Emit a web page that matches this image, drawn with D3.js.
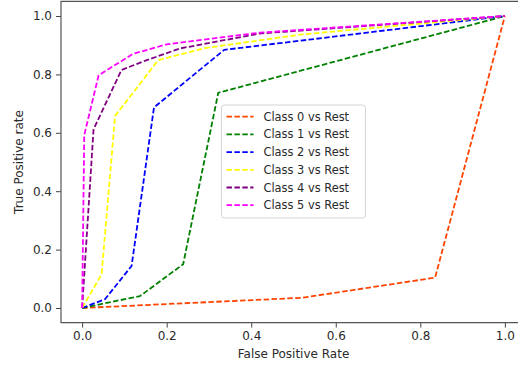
<!DOCTYPE html>
<html>
<head>
<meta charset="utf-8">
<script src="https://cdn.jsdelivr.net/npm/d3@7"></script>
<style>
	body { margin: 0; background: #fff; }
	svg { display: block; font-family: "DejaVu Sans", sans-serif; }
</style>
</head>
<body>
<svg id="chart" width="518" height="367"></svg>
<script>
// ROC curve points, one array per class (fpr, tpr)
const classNames = ["Class 0 vs Rest", "Class 1 vs Rest", "Class 2 vs Rest", "Class 3 vs Rest", "Class 4 vs Rest", "Class 5 vs Rest"]
const classColors = ["orangered", "green", "blue", "yellow", "purple", "magenta"]

const fpr0 = [0, 0.52, 0.835, 1]
const tpr0 = [0, 0.035, 0.104, 1]
const fpr1 = [0, 0.137, 0.239, 0.322, 1]
const tpr1 = [0, 0.041, 0.15, 0.737, 1]
const fpr2 = [0, 0.054, 0.117, 0.17, 0.336, 1]
const tpr2 = [0, 0.03, 0.144, 0.687, 0.884, 1]
const fpr3 = [0, 0.046, 0.078, 0.18, 0.29, 0.52, 1]
const tpr3 = [0, 0.115, 0.658, 0.849, 0.89, 0.937, 1]
const fpr4 = [0, 0.027, 0.093, 0.153, 0.232, 0.42, 1]
const tpr4 = [0, 0.612, 0.815, 0.849, 0.889, 0.94, 1]
const fpr5 = [0, 0.005, 0.039, 0.12, 0.2, 0.42, 1]
const tpr5 = [0, 0.592, 0.797, 0.87, 0.903, 0.943, 1]

const xTicks = [0, 0.2, 0.4, 0.6, 0.8, 1.0]
const yTicks = [0, 0.2, 0.4, 0.6, 0.8, 1.0]

const curves = [[fpr0, tpr0], [fpr1, tpr1], [fpr2, tpr2], [fpr3, tpr3], [fpr4, tpr4], [fpr5, tpr5]]
	.map(([f, t], i) => ({name: classNames[i], color: classColors[i], pts: f.map((x, j) => [x, t[j]])}))

const svg = d3.select("#chart")

//axes box reaches past the right edge of the picture, like the cropped original
const x = d3.scaleLinear().domain([-0.05, 1.05]).range([61, 526])
const y = d3.scaleLinear().domain([-0.05, 1.05]).range([322.6, 1.4])

const plot = svg.append("g")

const line = d3.line().x(d => x(d[0])).y(d => y(d[1]))

plot.selectAll("path.roc")
	.data(curves)
	.join("path")
		.classed("roc", true)
		.attr("d", d => line(d.pts))
		.attr("fill", "none")
		.attr("stroke", d => d.color)
		.attr("stroke-width", 1.8)
		.attr("stroke-dasharray", "5.5,2.4")
		.attr("stroke-linejoin", "round")

const xAxis = svg.append("g")
	.attr("transform", `translate(0,${y.range()[0]})`)
	.call(d3.axisBottom(x).tickValues(xTicks).tickFormat(d3.format(".1f")).tickSize(5).tickPadding(4))
const yAxis = svg.append("g")
	.attr("transform", `translate(${x.range()[0]},0)`)
	.call(d3.axisLeft(y).tickValues(yTicks).tickFormat(d3.format(".1f")).tickSize(5).tickPadding(4))

for (const ax of [xAxis, yAxis]) {
	ax.select(".domain").remove()
	ax.selectAll(".tick line").attr("stroke", "#444").attr("stroke-width", 1)
	ax.selectAll(".tick text").attr("fill", "#2a2a2a").style("font-size", "12px").style("font-family", "DejaVu Sans")
}

//spines (left, bottom, top; the right one is cut off)
svg.append("path")
	.attr("d", `M ${x.range()[1]} ${y.range()[1]} H ${x.range()[0]} V ${y.range()[0]} H ${x.range()[1]}`)
	.attr("fill", "none")
	.attr("stroke", "#555")
	.attr("stroke-width", 1.2)

svg.append("text")
	.attr("x", 293.5).attr("y", 357.5)
	.attr("text-anchor", "middle")
	.attr("fill", "#2a2a2a")
	.style("font-size", "12px")
	.text("False Positive Rate")

svg.append("text")
	.attr("transform", `translate(22.5,${y(0.5)}) rotate(-90)`)
	.attr("text-anchor", "middle")
	.attr("fill", "#2a2a2a")
	.style("font-size", "12px")
	.text("True Positive rate")

// legend
const legend = svg.append("g").attr("transform", "translate(221.5,105)")
legend.append("rect")
	.attr("width", 144).attr("height", 113)
	.attr("rx", 3)
	.attr("fill", "white").attr("fill-opacity", 0.85)
	.attr("stroke", "#d5d5d5")

const rows = legend.selectAll("g.row")
	.data(curves)
	.join("g")
		.classed("row", true)
		.attr("transform", (d, i) => `translate(0,${11.7 + i * 17.7})`)
rows.append("line")
	.attr("x1", 5).attr("x2", 32)
	.attr("stroke", d => d.color)
	.attr("stroke-width", 1.8)
	.attr("stroke-dasharray", "5.5,2.4")
rows.append("text")
	.attr("x", 42).attr("dy", "0.35em")
	.attr("fill", "#2a2a2a")
	.style("font-size", "11.4px")
	.text(d => d.name)
</script>
</body>
</html>
